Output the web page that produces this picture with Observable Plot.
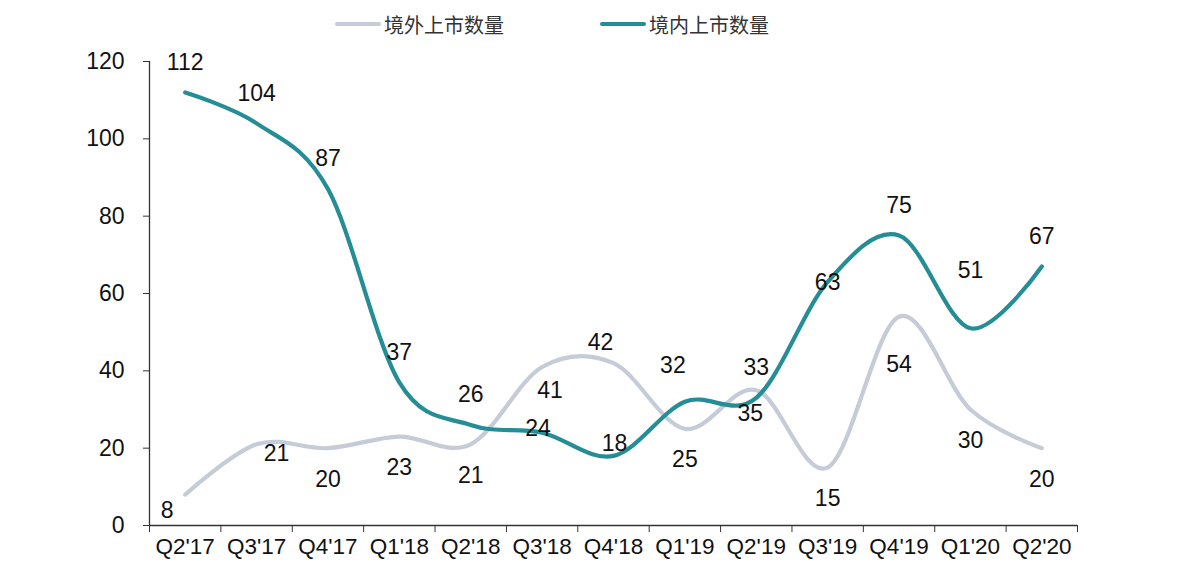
<!DOCTYPE html>
<html>
<head>
<meta charset="utf-8">
<script src="https://cdn.jsdelivr.net/npm/d3@7"></script>
<script src="https://cdn.jsdelivr.net/npm/@observablehq/plot@0.6"></script>
<style>
  html, body { margin: 0; padding: 0; background: #fff; }
  #wrap { width: 1194px; height: 564px; position: relative; font-family: "Liberation Sans", Arial, sans-serif; }
  #legend { height: 48px; display: flex; justify-content: flex-start; align-items: center; gap: 96px; font-family: "Noto Sans CJK SC", sans-serif; font-size: 20px; color: #333; padding-left: 335px; box-sizing: border-box; }
  .item { display: flex; align-items: center; }
  .swatch { width: 46px; height: 4px; border-radius: 2px; margin-right: 3px; }
</style>
</head>
<body>
<div id="wrap">
  <div id="legend"></div>
  <div id="chart"></div>
</div>
<script>
const quarters = ["Q2'17","Q3'17","Q4'17","Q1'18","Q2'18","Q3'18","Q4'18","Q1'19","Q2'19","Q3'19","Q4'19","Q1'20","Q2'20"];
const overseas = [8, 21, 20, 23, 21, 41, 42, 25, 35, 15, 54, 30, 20];   // 境外上市数量
const domestic = [112, 104, 87, 37, 26, 24, 18, 32, 33, 63, 75, 51, 67]; // 境内上市数量
const seriesNames = ["境外上市数量", "境内上市数量"];
const seriesColors = ["#C5CCD8", "#258D95"];
const yTicks = [0, 20, 40, 60, 80, 100, 120];

const rows = [];
quarters.forEach((q, i) => {
  rows.push({i, q, s: seriesNames[0], v: overseas[i]});
  rows.push({i, q, s: seriesNames[1], v: domestic[i]});
});

// label nudges (style, not data)
const nudge = {
  [seriesNames[0]]: {dy: 31, special: {0: [-18, 16], 1: [20, 9], 5: [8, 24], 6: [-13, -20], 8: [-6, 23], 10: [0, 48]}},
  [seriesNames[1]]: {dy: -30, special: {5: [-4, -4], 6: [1, -12], 7: [-12, -36], 9: [0, 1], 11: [0, -58]}}
};
function off(d) {
  const n = nudge[d.s];
  const sp = n.special[d.i];
  return sp ? sp : [0, n.dy];
}

// legend
const leg = document.getElementById("legend");
seriesNames.forEach((n, k) => {
  const it = document.createElement("div");
  it.className = "item";
  it.innerHTML = `<span class="swatch" style="background:${seriesColors[k]}"></span><span>${n}</span>`;
  leg.appendChild(it);
});

const boundaries = d3.range(-0.5, quarters.length, 1);

const labelMarks = rows.map(d => Plot.text([d], {
  x: "i", y: "v", text: d => String(d.v),
  dx: off(d)[0], dy: off(d)[1],
  fontSize: 23, fill: "#111"
}));

const chart = Plot.plot({
  width: 1194,
  height: 516,
  marginLeft: 149,
  marginRight: 117,
  marginTop: 13,
  marginBottom: 39,
  style: {fontFamily: "'Liberation Sans', Arial, sans-serif", fontSize: "23px", color: "#111", background: "#fff"},
  x: {type: "linear", domain: [-0.5, quarters.length - 0.5]},
  y: {domain: [0, 120]},
  color: {domain: seriesNames, range: seriesColors},
  marks: [
    Plot.axisY({ticks: yTicks, tickSize: 6, tickPadding: 19, label: null, fontSize: 23, stroke: "#333"}),
    Plot.axisX({ticks: d3.range(quarters.length), tickSize: 0, tickPadding: 13, tickFormat: i => quarters[i], label: null, fontSize: 22.5}),
    Plot.axisX({ticks: boundaries, tickSize: 7, tickFormat: () => "", label: null, stroke: "#333"}),
    Plot.ruleX([-0.5], {stroke: "#333", strokeWidth: 1.3}),
    Plot.ruleY([0], {stroke: "#333", strokeWidth: 1.3}),
    Plot.line(rows, {x: "i", y: "v", z: "s", stroke: "s", strokeWidth: 4.2, curve: "cardinal", strokeLinecap: "round"}),
    ...labelMarks
  ]
});
document.getElementById("chart").appendChild(chart);
</script>
</body>
</html>
